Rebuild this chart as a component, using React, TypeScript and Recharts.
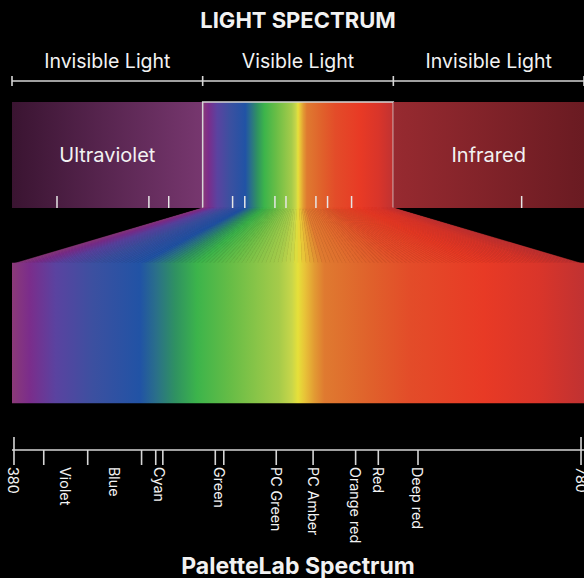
import React from 'react';
import { ComposedChart, XAxis, YAxis, ReferenceArea, Scatter, Label } from 'recharts';

// ---- data ----
const WL_MIN = 378.6;
const WL_MAX = 782.1;

const SPECTRUM_NM = [378.6, 391, 409.6, 435.7, 468.9, 480.2, 493.6, 509.1, 533.1, 567, 576, 580.3, 585, 592, 599, 632.5, 659.4, 711.6, 751, 782.1];
const SPECTRUM_COLORS = ['#8b3a78', '#7b2d8b', '#5a43a0', '#3c50a0', '#2153a5', '#2a6f8a', '#2f9162', '#3cb44b', '#67bd46', '#a6cb4a', '#c8d64a', '#e6e03a', '#e8c438', '#e29a33', '#df7a30', '#e0602b', '#e34c29', '#e83a25', '#d9352a', '#c03232'];

const REGION_NAMES = ['Invisible Light', 'Visible Light', 'Invisible Light'];
const UV_NAME = 'Ultraviolet';
const IR_NAME = 'Infrared';
const TOP_TICKS = [0.236, 0.718, 0.822, 1.157, 1.221, 1.379, 1.437, 1.594, 1.655, 1.781, 2.673];

const WL_TICKS = [380, 401, 432, 470, 480, 485, 522, 528, 565, 591, 621, 637, 665, 780];
const WL_END_TICKS = [380, 780];
const WL_LABELS = ['380', 'Violet', 'Blue', 'Cyan', 'Green', 'PC Green', 'PC Amber', 'Orange red', 'Red', 'Deep red', '780'];
const WL_LABEL_NM = [380, 416.5, 451, 482.5, 525, 565, 591, 621, 637, 665, 780];

// ---- layout (y units of hidden axis, 0 = top of plot) ----
const Y_MAX = 369;
const TOP_BAND = [21, 127];
const FAN = [127, 181.7];
const BOTTOM_BAND = [181.7, 322.3];

const TEXT = '#f2f2f2';
const LINE = '#d6d6d6';
const FONT = 'Inter, Lato, sans-serif';

const topTickData = TOP_TICKS.map((p) => ({ pos: p, y: TOP_BAND[1] }));
const wlTickData = WL_TICKS.map((nm) => ({ nm, y: Y_MAX }));

const hexToRgb = (h: string) => [parseInt(h.slice(1, 3), 16), parseInt(h.slice(3, 5), 16), parseInt(h.slice(5, 7), 16)];
const colorAt = (nm: number) => {
  let i = 0;
  while (i < SPECTRUM_NM.length - 2 && nm > SPECTRUM_NM[i + 1]) i++;
  const t = Math.max(0, Math.min(1, (nm - SPECTRUM_NM[i]) / (SPECTRUM_NM[i + 1] - SPECTRUM_NM[i])));
  const a = hexToRgb(SPECTRUM_COLORS[i]);
  const b = hexToRgb(SPECTRUM_COLORS[i + 1]);
  const c = a.map((v, k) => Math.round(v + (b[k] - v) * t));
  return `rgb(${c[0]},${c[1]},${c[2]})`;
};

const FAN_SLICES = 140;
const FanShape = (props: any) => {
  const { x, y, width } = props;
  const height = props.height + 1.5; // overlap into the band below to avoid a seam
  const topL = x + width / 3;
  const topW = width / 3;
  const polys = [];
  for (let i = 0; i < FAN_SLICES; i++) {
    const f0 = i / FAN_SLICES;
    const f1 = (i + 1) / FAN_SLICES;
    const nm = WL_MIN + ((f0 + f1) / 2) * (WL_MAX - WL_MIN);
    const c = colorAt(nm);
    const pts = `${topL + f0 * topW},${y} ${topL + f1 * topW},${y} ${x + f1 * width},${y + height} ${x + f0 * width},${y + height}`;
    polys.push(<polygon key={i} points={pts} fill={c} stroke={c} strokeWidth={0.6} />);
  }
  return <g>{polys}</g>;
};

const VisibleShape = (props: any) => {
  const { x, y, width, height } = props;
  return (
    <g>
      <rect x={x} y={y} width={width} height={height + 0.8} fill="url(#specGrad)" />
      <path d={`M${x},${y + height} L${x},${y} L${x + width},${y} L${x + width},${y + height}`} fill="none" stroke={LINE} strokeWidth={1.5} />
    </g>
  );
};

const TopTickShape = (props: any) => {
  const { cx, cy } = props;
  return <line x1={cx} x2={cx} y1={cy - 12} y2={cy} stroke="#e6e6e6" strokeWidth={1.5} />;
};

const WlTickShape = (props: any) => {
  const { cx, cy, payload } = props;
  const isEnd = WL_END_TICKS.includes(payload.nm);
  return <line x1={cx} x2={cx} y1={isEnd ? cy - 13 : cy} y2={cy + 15} stroke={LINE} strokeWidth={1.6} />;
};

const SegTick = (props: any) => {
  const { x, y, payload } = props;
  const v = payload.value;
  if (Number.isInteger(v)) {
    return <line x1={x} x2={x} y1={y - 5} y2={y + 5} stroke={LINE} strokeWidth={1.6} />;
  }
  return (
    <text x={x} y={y - 13} textAnchor="middle" fill={TEXT} fontSize={19.5} fontFamily={FONT}>
      {REGION_NAMES[Math.floor(v)]}
    </text>
  );
};

const WlTick = (props: any) => {
  const { x, y, payload } = props;
  const li = WL_LABEL_NM.indexOf(payload.value);
  if (li < 0) return <g />;
  return (
    <text transform={`translate(${x},${y + 17}) rotate(90)`} x={0} y={0} dominantBaseline="central" textAnchor="start" fill={TEXT} fontSize={14.3} fontFamily={FONT}>
      {WL_LABELS[li]}
    </text>
  );
};

export default function App() {
  return (
    <div style={{ position: 'fixed', left: 0, top: 0, width: 584, height: 578, background: '#000', fontFamily: FONT }}>
      <ComposedChart width={584} height={578} margin={{ top: 0, right: 0, bottom: 0, left: 12 }}>
        <defs>
          <linearGradient id="specGrad" x1="0" y1="0" x2="1" y2="0">
            {SPECTRUM_NM.map((nm, i) => (
              <stop key={i} offset={(nm - WL_MIN) / (WL_MAX - WL_MIN)} stopColor={SPECTRUM_COLORS[i]} />
            ))}
          </linearGradient>
          <linearGradient id="uvGrad" x1="0" y1="0" x2="1" y2="0">
            <stop offset="0" stopColor="#3a1431" />
            <stop offset="1" stopColor="#77376f" />
          </linearGradient>
          <linearGradient id="irGrad" x1="0" y1="0" x2="1" y2="0">
            <stop offset="0" stopColor="#972a30" />
            <stop offset="1" stopColor="#6a1b22" />
          </linearGradient>
        </defs>
        <XAxis
          xAxisId="seg"
          dataKey="pos"
          type="number"
          orientation="top"
          domain={[0, 3]}
          ticks={[0, 0.5, 1, 1.5, 2, 2.5, 3]}
          interval={0}
          height={81}
          tickSize={0}
          tickMargin={0}
          tickLine={false}
          axisLine={{ stroke: LINE, strokeWidth: 1.5 }}
          tick={<SegTick />}
        >
          <Label value="LIGHT SPECTRUM" position="insideTop" offset={12} fill={TEXT} fontSize={22} fontWeight={700} fontFamily={FONT} />
        </XAxis>
        <XAxis
          xAxisId="wl"
          dataKey="nm"
          type="number"
          orientation="bottom"
          domain={[WL_MIN, WL_MAX]}
          ticks={WL_LABEL_NM}
          interval={0}
          height={128}
          tickSize={0}
          tickMargin={0}
          tickLine={false}
          axisLine={{ stroke: LINE, strokeWidth: 1.5 }}
          tick={<WlTick />}
        >
          <Label value="PaletteLab Spectrum" position="insideBottom" offset={4} fill={TEXT} fontSize={23} fontWeight={700} fontFamily={FONT} />
        </XAxis>
        <YAxis dataKey="y" type="number" domain={[0, Y_MAX]} reversed hide />

        <ReferenceArea xAxisId="seg" x1={0} x2={1} y1={TOP_BAND[0]} y2={TOP_BAND[1]} fill="url(#uvGrad)" fillOpacity={1} stroke="none">
          <Label value={UV_NAME} position="center" fill={TEXT} fontSize={20} fontFamily={FONT} />
        </ReferenceArea>
        <ReferenceArea xAxisId="seg" x1={1} x2={2} y1={TOP_BAND[0]} y2={TOP_BAND[1]} shape={VisibleShape} />
        <ReferenceArea xAxisId="seg" x1={2} x2={3} y1={TOP_BAND[0]} y2={TOP_BAND[1]} fill="url(#irGrad)" fillOpacity={1} stroke="none">
          <Label value={IR_NAME} position="center" fill={TEXT} fontSize={20} fontFamily={FONT} />
        </ReferenceArea>
        <ReferenceArea xAxisId="wl" x1={WL_MIN} x2={WL_MAX} y1={FAN[0]} y2={FAN[1]} shape={FanShape} />
        <ReferenceArea xAxisId="wl" x1={WL_MIN} x2={WL_MAX} y1={BOTTOM_BAND[0]} y2={BOTTOM_BAND[1]} fill="url(#specGrad)" fillOpacity={1} stroke="none" />

        <Scatter xAxisId="seg" data={topTickData} shape={TopTickShape} isAnimationActive={false} />
        <Scatter xAxisId="wl" data={wlTickData} shape={WlTickShape} isAnimationActive={false} />
      </ComposedChart>
    </div>
  );
}
